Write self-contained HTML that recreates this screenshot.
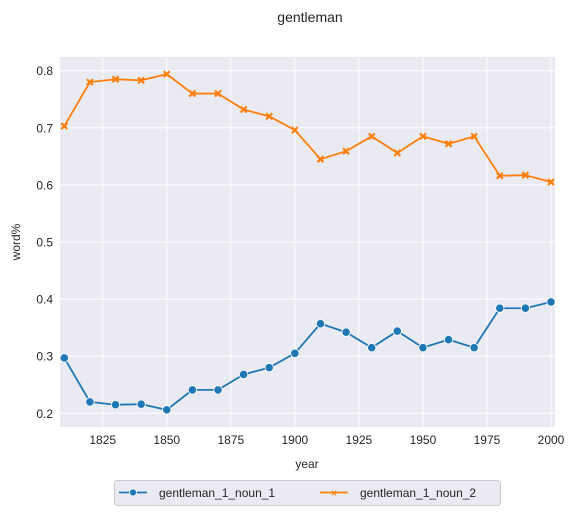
<!DOCTYPE html>
<html><head><meta charset="utf-8"><style>
body{margin:0;background:#fff;}
svg text{font-family:"Liberation Sans",Arial,sans-serif;fill:#262626;}
</style></head><body>
<svg id="chart" width="575" height="515" xmlns="http://www.w3.org/2000/svg">
<text x="310" y="22" font-size="14" text-anchor="middle">gentleman</text>
<rect x="60" y="57" width="495" height="370" fill="#eaeaf2"/>
<g id="grid"></g><g id="series"></g><g id="ticks"></g>
<text x="307" y="468" font-size="12" text-anchor="middle">year</text>
<text transform="translate(20,242) rotate(-90)" font-size="12" text-anchor="middle">word%</text>
<g>
<rect x="114.5" y="480.5" width="386" height="25" rx="3" fill="#eaeaf2" stroke="#cccccc"/>
<g>
<line x1="119" y1="492.5" x2="147" y2="492.5" stroke="#1f77b4" stroke-width="1.8"/>
<circle cx="133" cy="492.5" r="3.5" fill="#1f77b4" stroke="#fff" stroke-width="0.8"/>
<text x="159" y="497" font-size="12">gentleman_1_noun_1</text></g>
<g>
<line x1="320" y1="492.5" x2="348" y2="492.5" stroke="#ff7f0e" stroke-width="1.8"/>
<text x="334" y="496.5" font-size="10" fill="#ff7f0e" text-anchor="middle" style="fill:#ff7f0e;font-weight:bold">×</text>
<text x="360" y="497" font-size="12">gentleman_1_noun_2</text></g>
</g>
</svg>
<script>
const years=[1810,1820,1830,1840,1850,1860,1870,1880,1890,1900,1910,1920,1930,1940,1950,1960,1970,1980,1990,2000];
const noun1=[0.297,0.220,0.215,0.216,0.206,0.241,0.241,0.268,0.280,0.305,0.357,0.342,0.315,0.344,0.315,0.329,0.315,0.384,0.384,0.395];
const noun2=[0.703,0.780,0.785,0.783,0.794,0.760,0.760,0.732,0.720,0.696,0.645,0.659,0.685,0.656,0.685,0.672,0.685,0.616,0.617,0.605];
const xTicks=[1825,1850,1875,1900,1925,1950,1975,2000];
const yTicks=[0.2,0.3,0.4,0.5,0.6,0.7,0.8];
const NS="http://www.w3.org/2000/svg";
function xs(v){return 64.3+(v-1810)*(551-64.3)/190;}
function ys(v){return 413.3-(v-0.2)*(413.3-70.7)/0.6;}
function mk(t,a,p){const e=document.createElementNS(NS,t);for(const k in a)e.setAttribute(k,a[k]);document.getElementById(p).appendChild(e);return e;}
xTicks.forEach(t=>{
 const l=mk('line',{x1:xs(t),x2:xs(t),y1:57,y2:427,stroke:'#fff','stroke-width':1},'grid');
 
 
 const tx=mk('text',{x:xs(t),y:444,'font-size':12,'text-anchor':'middle'},'ticks');tx.textContent=t;
 
 
});
yTicks.forEach(t=>{
 const l=mk('line',{x1:60,x2:555,y1:ys(t),y2:ys(t),stroke:'#fff','stroke-width':1},'grid');
 
 
 const tx=mk('text',{x:53,y:ys(t)+4.5,'font-size':12,'text-anchor':'end'},'ticks');tx.textContent=t.toFixed(1);
 
 
});
function draw(vals,color,marker,name){
 const p=mk('polyline',{points:years.map((y,i)=>xs(y)+','+ys(vals[i])).join(' '),fill:'none',stroke:color,'stroke-width':1.8},'series');
 
 
 years.forEach((y,i)=>{
  let m;const cx=xs(y),cy=ys(vals[i]);
  if(marker==='o'){m=mk('circle',{cx:cx,cy:cy,r:4.2,fill:color,stroke:'#fff','stroke-width':0.8},'series');}
  else{const d=3;m=mk('path',{d:`M${cx-d},${cy-d}L${cx+d},${cy+d}M${cx-d},${cy+d}L${cx+d},${cy-d}`,stroke:color,'stroke-width':2.2},'series');}
  
  
 });
}
draw(noun1,'#1f77b4','o','noun-1');
draw(noun2,'#ff7f0e','x','noun-2');
</script>
</body></html>
